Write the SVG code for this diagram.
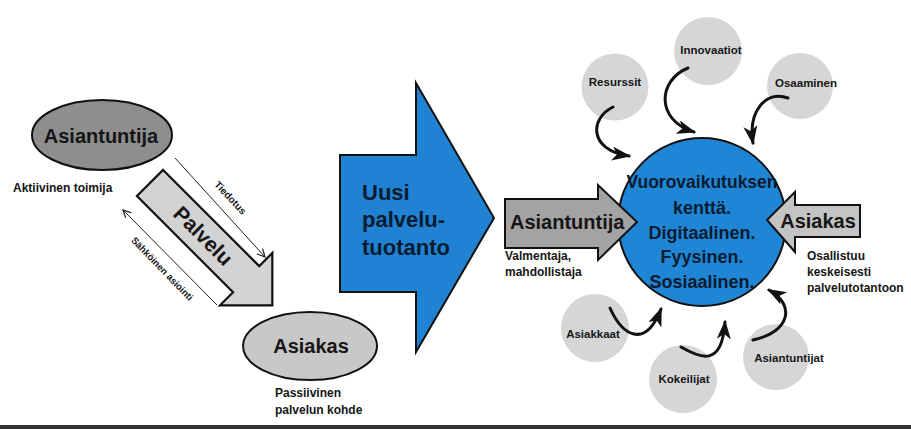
<svg xmlns="http://www.w3.org/2000/svg" width="911" height="429" viewBox="0 0 911 429">
<style>
.t{font-family:"Liberation Sans",Arial,sans-serif;font-weight:bold;fill:#161616}
.big{font-size:20px}
.sm{font-size:12px}
.tiny{font-size:10px}
.c{text-anchor:middle}
.nav{fill:#0b1b30}
.bub{fill:#d6d6d6}
.curve{fill:none;stroke:#111;stroke-width:3;stroke-linecap:round}
.thin{fill:none;stroke:#222;stroke-width:1}
</style>
<defs>
<marker id="ah" markerUnits="userSpaceOnUse" markerWidth="20" markerHeight="16" refX="17" refY="7" orient="auto">
<path d="M0,0 L19,7 L0,14 L5,7 z" fill="#111"/>
</marker>
<marker id="th" markerUnits="userSpaceOnUse" markerWidth="10" markerHeight="10" refX="8" refY="4" orient="auto">
<path d="M0,0 L8,4 L0,8" fill="none" stroke="#222" stroke-width="1.2"/>
</marker>
</defs>
<rect x="0" y="0" width="911" height="429" fill="#fff"/>
<rect x="0" y="425" width="911" height="4" fill="#333"/>

<g id="asiantuntija-left">
<ellipse cx="102" cy="135" rx="70" ry="35" fill="#8e8e8e" stroke="#111" stroke-width="2"/>
<text class="t big c" x="101" y="143">Asiantuntija</text>
<text class="t sm" x="13" y="192">Aktiivinen toimija</text>
</g>

<g id="palvelu">
<path transform="translate(150,183) rotate(45)" d="M0,-18.5 L136,-18.5 L136,-37 L173,0 L136,37 L136,18.5 L0,18.5 z" fill="#d3d3d3" stroke="#111" stroke-width="2.2" stroke-linejoin="miter"/>
<text class="t c" font-size="21" transform="translate(203,236) rotate(45)" x="0" y="7">Palvelu</text>
</g>

<g id="asiakas-left">
<ellipse cx="310" cy="346" rx="67" ry="34" fill="#c8c8c8" stroke="#111" stroke-width="2"/>
<text class="t big c" x="311" y="353">Asiakas</text>
<text class="t sm" x="275" y="397">Passiivinen</text>
<text class="t sm" x="275" y="414">palvelun kohde</text>
</g>

<g id="uusi-palvelutuotanto">
<path d="M340,155 L416,155 L416,83 L494,218 L416,352 L416,292 L340,292 z" fill="#1f82d2" stroke="#111" stroke-width="2" stroke-linejoin="miter"/>
<text class="t nav" font-size="22" x="362" y="200">Uusi</text>
<text class="t nav" font-size="22" x="362" y="227">palvelu-</text>
<text class="t nav" font-size="22" x="362" y="255">tuotanto</text>
</g>

<g id="vuorovaikutus">
<circle cx="702" cy="222" r="84" fill="#1f86d6" stroke="#111" stroke-width="2"/>
<text class="t nav c" font-size="17.5" x="702" y="188">Vuorovaikutuksen</text>
<text class="t nav c" font-size="18" x="702" y="214">kenttä.</text>
<text class="t nav c" font-size="18" x="702" y="239">Digitaalinen.</text>
<text class="t nav c" font-size="18" x="702" y="263">Fyysinen.</text>
<text class="t nav c" font-size="18" x="702" y="288">Sosiaalinen.</text>
</g>

<g id="asiantuntija-right">
<path d="M505,199 L598,199 L598,185 L637,222 L598,260 L598,248 L505,248 z" fill="#a3a3a3" stroke="#111" stroke-width="2"/>
<text class="t big" x="510" y="229">Asiantuntija</text>
<text class="t sm" x="505" y="260">Valmentaja,</text>
<text class="t sm" x="505" y="276">mahdollistaja</text>
</g>

<g id="asiakas-right">
<path d="M860,205 L795,205 L795,192 L767,220 L795,252 L795,237 L860,237 z" fill="#c4c4c4" stroke="#111" stroke-width="2"/>
<text class="t big c" x="818" y="228">Asiakas</text>
<text class="t sm" x="807" y="260">Osallistuu</text>
<text class="t sm" x="807" y="276">keskeisesti</text>
<text class="t sm" x="807" y="292">palvelutotantoon</text>
</g>

<g id="resurssit"><circle class="bub" cx="615" cy="87" r="33.5"/><text class="t c" font-size="11.5" x="615" y="86">Resurssit</text></g>
<g id="innovaatiot"><circle class="bub" cx="708" cy="51" r="34"/><text class="t c" font-size="11.5" x="711" y="54">Innovaatiot</text></g>
<g id="osaaminen"><circle class="bub" cx="800" cy="86" r="33"/><text class="t c" font-size="11.5" x="806" y="87">Osaaminen</text></g>
<g id="asiakkaat"><circle class="bub" cx="595" cy="328" r="34"/><text class="t c" font-size="11.5" x="593" y="338">Asiakkaat</text></g>
<g id="kokeilijat"><circle class="bub" cx="683" cy="379" r="34"/><text class="t c" font-size="11.5" x="684" y="383">Kokeilijat</text></g>
<g id="asiantuntijat"><circle class="bub" cx="776" cy="357" r="33"/><text class="t c" font-size="11.5" x="789" y="362">Asiantuntijat</text></g>

<g id="connectors">
<line class="thin" x1="175" y1="158" x2="265" y2="257" marker-end="url(#th)"/>
<text class="t tiny c" transform="translate(230,198) rotate(47)" x="0" y="3">Tiedotus</text>
<line class="thin" x1="217" y1="305" x2="123" y2="210" marker-end="url(#th)"/>
<text class="t c" font-size="9.5" transform="translate(162,269) rotate(46)" x="0" y="3">Sähköinen asiointi</text>

<path class="curve" d="M613,107 C590,118 588,150 629,156" marker-end="url(#ah)"/>
<path class="curve" d="M688,68 C658,80 655,120 694,132" marker-end="url(#ah)"/>
<path class="curve" d="M788,98 C765,90 748,112 753,143" marker-end="url(#ah)"/>
<path class="curve" d="M610,308 C622,335 645,350 661,309" marker-end="url(#ah)"/>
<path class="curve" d="M681,347 C700,358 722,368 725,322" marker-end="url(#ah)"/>
<path class="curve" d="M753,340 C790,332 796,305 769,290" marker-end="url(#ah)"/>
</g>
</svg>
